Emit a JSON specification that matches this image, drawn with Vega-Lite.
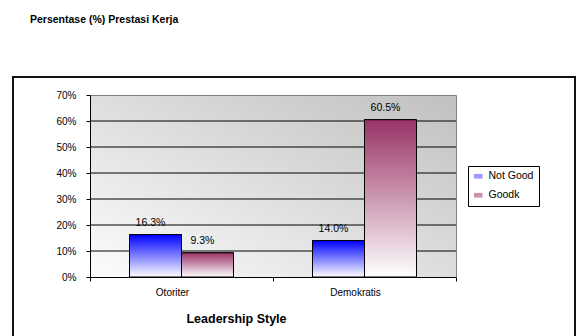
{
  "$schema": "https://vega.github.io/schema/vega-lite/v6.json",
  "width": 562,
  "height": 262,
  "autosize": {"type": "none"},
  "padding": {"left": 13, "top": 77, "right": 5, "bottom": -3},
  "background": "white",
  "title": {
    "text": "Persentase (%) Prestasi Kerja",
    "anchor": "start",
    "frame": "group",
    "fontSize": 10.5,
    "fontWeight": "bold",
    "color": "black",
    "dx": 17,
    "offset": 52
  },
  "config": {
    "font": "Liberation Sans",
    "view": {"stroke": "#111111", "strokeWidth": 2, "fill": "white"},
    "legend": {
      "orient": "none",
      "legendX": 455,
      "legendY": 89,
      "strokeColor": "black",
      "fillColor": "white",
      "padding": 5,
      "symbolType": "M-1,-0.55H1V0.55H-1Z",
      "symbolSize": 72,
      "symbolStrokeColor": "black",
      "symbolStrokeWidth": 1,
      "labelFontSize": 10.5,
      "labelColor": "black",
      "labelOffset": 5,
      "rowPadding": 8
    }
  },
  "resolve": {"axis": {"x": "independent", "y": "independent"}},
  "datasets": {
    "panel": [{"style": "Otoriter"}, {"style": "Demokratis"}],
    "grid": [
      {"style": "Otoriter", "pct": 0.1}, {"style": "Otoriter", "pct": 0.2}, {"style": "Otoriter", "pct": 0.3},
      {"style": "Otoriter", "pct": 0.4}, {"style": "Otoriter", "pct": 0.5}, {"style": "Otoriter", "pct": 0.6},
      {"style": "Demokratis", "pct": 0.1}, {"style": "Demokratis", "pct": 0.2}, {"style": "Demokratis", "pct": 0.3},
      {"style": "Demokratis", "pct": 0.4}, {"style": "Demokratis", "pct": 0.5}, {"style": "Demokratis", "pct": 0.6}
    ],
    "bars": [
      {"style": "Otoriter", "kinerja": "Not Good", "value": 0.163},
      {"style": "Otoriter", "kinerja": "Goodk", "value": 0.093},
      {"style": "Demokratis", "kinerja": "Not Good", "value": 0.14},
      {"style": "Demokratis", "kinerja": "Goodk", "value": 0.605}
    ]
  },
  "layer": [
    {
      "data": {"name": "panel"},
      "transform": [{"filter": "datum.style === 'Otoriter'"}],
      "mark": {
        "type": "rect",
        "fill": {
          "gradient": "linear",
          "x1": 0, "y1": 1, "x2": 0.8, "y2": -0.6,
          "stops": [
            {"offset": 0, "color": "#fcfcfc"},
            {"offset": 1, "color": "#c0c0c0"}
          ]
        }
      },
      "encoding": {
        "x": {
          "field": "style",
          "type": "nominal",
          "title": "Leadership Style",
          "scale": {"domain": ["Otoriter", "Demokratis"], "range": [77, 443], "paddingInner": 0, "paddingOuter": 0},
          "axis": {
            "orient": "bottom",
            "offset": -62,
            "zindex": 1,
            "grid": false,
            "domainColor": "black",
            "domainWidth": 1,
            "tickColor": "black",
            "tickSize": 4,
            "tickBand": "extent",
            "labelAngle": 0,
            "labelFontSize": 10,
            "labelColor": "black",
            "labelPadding": 6,
            "labelOffset": -9.5,
            "titleFontSize": 12.5,
            "titleFontWeight": "bold",
            "titleColor": "black",
            "titleX": 223,
            "titleY": 45,
            "titleAlign": "center",
            "titleBaseline": "alphabetic"
          }
        },
        "y": {
          "datum": 0,
          "type": "quantitative",
          "title": null,
          "scale": {"domain": [0, 0.7], "range": [200, 18], "nice": false, "zero": true},
          "axis": {
            "orient": "left",
            "offset": -77,
            "zindex": 1,
            "grid": false,
            "values": [0, 0.1, 0.2, 0.3, 0.4, 0.5, 0.6, 0.7],
            "format": ".0%",
            "domainColor": "black",
            "tickColor": "black",
            "tickSize": 4,
            "labelFontSize": 10,
            "labelColor": "black",
            "labelPadding": 10
          }
        },
        "y2": {"datum": 0.7}
      }
    },
    {
      "data": {"name": "panel"},
      "transform": [{"filter": "datum.style === 'Demokratis'"}],
      "mark": {
        "type": "rect",
        "fill": {
          "gradient": "linear",
          "x1": 0, "y1": 1.5, "x2": 0.8, "y2": -0.1,
          "stops": [
            {"offset": 0, "color": "#fcfcfc"},
            {"offset": 1, "color": "#c0c0c0"}
          ]
        }
      },
      "encoding": {
        "x": {"field": "style", "type": "nominal", "axis": null},
        "y": {"datum": 0, "type": "quantitative", "axis": null},
        "y2": {"datum": 0.7}
      }
    },
    {
      "data": {"name": "grid"},
      "mark": {"type": "tick", "color": "black", "size": 183, "thickness": 1, "opacity": 1, "orient": "horizontal"},
      "encoding": {
        "x": {"field": "style", "type": "nominal", "axis": null},
        "y": {"field": "pct", "type": "quantitative", "axis": null}
      }
    },
    {
      "data": {"name": "bars"},
      "mark": {"type": "bar", "stroke": "black", "strokeWidth": 1},
      "encoding": {
        "x": {
          "field": "style",
          "type": "nominal",
          "axis": {"orient": "top", "offset": -18, "zindex": 1, "title": null, "labels": false, "ticks": false, "grid": false, "domainColor": "#808080", "domainWidth": 1}
        },
        "xOffset": {"field": "kinerja", "type": "nominal", "scale": {"domain": ["Not Good", "Goodk"], "paddingInner": 0, "paddingOuter": 0.76}},
        "y": {
          "field": "value",
          "type": "quantitative",
          "axis": {"orient": "right", "offset": -119, "zindex": 1, "title": null, "labels": false, "ticks": false, "grid": false, "domainColor": "#808080", "domainWidth": 1}
        },
        "color": {
          "field": "kinerja",
          "type": "nominal",
          "scale": {"domain": ["Not Good", "Goodk"], "range": ["#9999ff", "#c993ae"]},
          "legend": {
            "title": null,
            "labelExpr": "datum.label + '\u00a0\u00a0\u00a0\u00a0\u00a0\u00a0\u00a0\u00a0\u00a0\u00a0\u00a0\u00a0'",
            "encode": {
              "symbols": {
                "update": {
                  "fill": [
                    {"test": "datum.value === 'Not Good'", "value": {"gradient": "linear", "x1": 0, "y1": 0, "x2": 0, "y2": 1, "stops": [{"offset": 0, "color": "#3333ff"}, {"offset": 1, "color": "#eeeeff"}]}},
                    {"value": {"gradient": "linear", "x1": 0, "y1": 0, "x2": 0, "y2": 1, "stops": [{"offset": 0, "color": "#993366"}, {"offset": 1, "color": "#f4e8ee"}]}}
                  ]
                }
              }
            }
          }
        }
      }
    },
    {
      "data": {"name": "bars"},
      "transform": [{"filter": "datum.kinerja === 'Not Good'"}],
      "mark": {
        "type": "bar",
        "stroke": "black",
        "strokeWidth": 1,
        "fill": {"gradient": "linear", "x1": 0, "y1": 0, "x2": 0, "y2": 1, "stops": [{"offset": 0, "color": "#0000ff"}, {"offset": 1, "color": "#ffffff"}]}
      },
      "encoding": {
        "x": {"field": "style", "type": "nominal", "axis": null},
        "xOffset": {"field": "kinerja", "type": "nominal"},
        "y": {"field": "value", "type": "quantitative", "axis": null}
      }
    },
    {
      "data": {"name": "bars"},
      "transform": [{"filter": "datum.kinerja === 'Goodk'"}],
      "mark": {
        "type": "bar",
        "stroke": "black",
        "strokeWidth": 1,
        "fill": {"gradient": "linear", "x1": 0, "y1": 0, "x2": 0, "y2": 1, "stops": [{"offset": 0, "color": "#993366"}, {"offset": 1, "color": "#ffffff"}]}
      },
      "encoding": {
        "x": {"field": "style", "type": "nominal", "axis": null},
        "xOffset": {"field": "kinerja", "type": "nominal"},
        "y": {"field": "value", "type": "quantitative", "axis": null}
      }
    },
    {
      "data": {"name": "bars"},
      "mark": {"type": "text", "fontSize": 10.5, "color": "black", "baseline": "alphabetic", "dy": -8.5, "dx": -5},
      "encoding": {
        "x": {"field": "style", "type": "nominal", "axis": null},
        "xOffset": {"field": "kinerja", "type": "nominal"},
        "y": {"field": "value", "type": "quantitative", "axis": null},
        "text": {"field": "value", "type": "quantitative", "format": ".1%"}
      }
    }
  ]
}
